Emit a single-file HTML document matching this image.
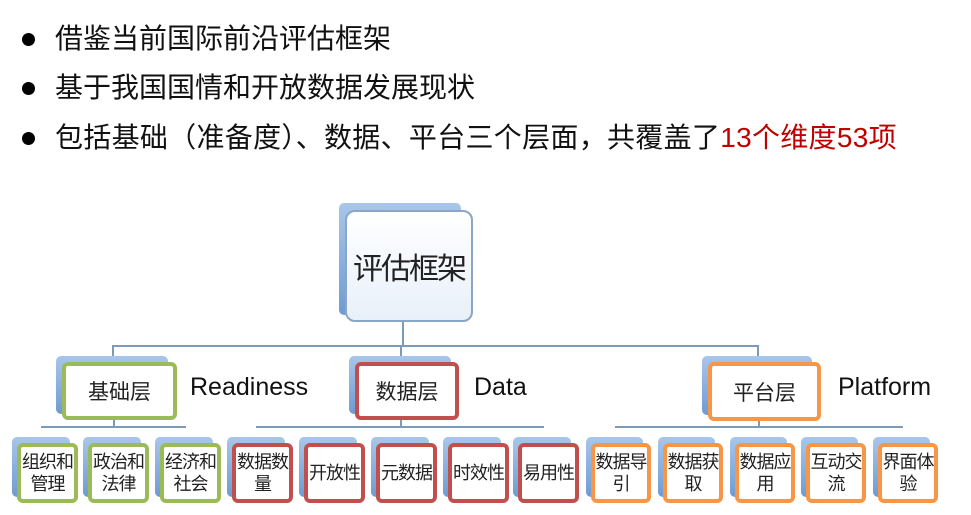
<!DOCTYPE html>
<html><head><meta charset="utf-8"><style>
body{margin:0;width:971px;height:515px;background:#fff;position:relative;overflow:hidden;font-family:"Liberation Sans","Noto Sans CJK SC",sans-serif;}
.b{position:absolute;left:22px;width:13px;height:13px;border-radius:50%;background:#000;}
.t{position:absolute;left:55px;font-size:28px;color:#111;line-height:32px;white-space:nowrap;}
.sh{position:absolute;background:linear-gradient(#a9c6ea,#6f9bd2);border-radius:5px;}
.bx{position:absolute;background:#fff;border-radius:6px;box-sizing:border-box;display:flex;align-items:center;justify-content:center;text-align:center;color:#222;font-family:"Liberation Sans","WenQuanYi Zen Hei",sans-serif;white-space:nowrap;}
.l{position:absolute;background:#7d9bb8;}
.g{border:4px solid #9bbb59}.r{border:4px solid #c0504d}.o{border:4px solid #f79646}
.c{font-size:18px;line-height:22px;letter-spacing:-1px}
.lab{position:absolute;font-size:25px;color:#111;}
</style></head><body>
<div class="b" style="top:33px"></div><div class="t" style="top:23px">借鉴当前国际前沿评估框架</div>
<div class="b" style="top:82px"></div><div class="t" style="top:72px">基于我国国情和开放数据发展现状</div>
<div class="b" style="top:132px"></div><div class="t" style="top:122px;letter-spacing:0.3px">包括基础（准备度）、数据、平台三个层面，共覆盖了<span style="color:#c00000">13个维度53项</span></div>

<div class="l" style="left:402px;top:322px;width:2px;height:25px"></div>
<div class="l" style="left:112px;top:345px;width:647px;height:2px"></div>
<div class="l" style="left:112px;top:345px;width:2px;height:17px"></div>
<div class="l" style="left:400px;top:345px;width:2px;height:17px"></div>
<div class="l" style="left:757px;top:345px;width:2px;height:17px"></div>
<div class="l" style="left:41px;top:426px;width:145px;height:2px"></div>
<div class="l" style="left:113px;top:420px;width:2px;height:7px"></div>
<div class="l" style="left:256px;top:426px;width:288px;height:2px"></div>
<div class="l" style="left:400px;top:420px;width:2px;height:7px"></div>
<div class="l" style="left:615px;top:426px;width:288px;height:2px"></div>
<div class="l" style="left:758px;top:421px;width:2px;height:7px"></div>

<div class="sh" style="left:339px;top:203px;width:122px;height:112px"></div>
<div class="bx" style="left:345px;top:210px;width:128px;height:112px;border:2px solid #8aa6c6;border-radius:10px;background:linear-gradient(#fff,#e8f0fa);font-size:30px;letter-spacing:-2px">评估框架</div>

<div class="sh" style="left:56px;top:356px;width:112px;height:58px"></div>
<div class="bx g" style="left:62px;top:362px;width:115px;height:58px;font-size:21px">基础层</div>
<div class="lab" style="left:190px;top:373px">Readiness</div>
<div class="sh" style="left:349px;top:356px;width:102px;height:58px"></div>
<div class="bx r" style="left:355px;top:362px;width:104px;height:58px;font-size:21px">数据层</div>
<div class="lab" style="left:474px;top:373px">Data</div>
<div class="sh" style="left:702px;top:356px;width:110px;height:59px"></div>
<div class="bx o" style="left:708px;top:362px;width:113px;height:59px;font-size:21px">平台层</div>
<div class="lab" style="left:838px;top:373px">Platform</div>

<div class="sh" style="left:12px;top:437px;width:58px;height:60px"></div><div class="bx g c" style="left:17px;top:443px;width:61px;height:60px">组织和<br>管理</div>
<div class="sh" style="left:83px;top:437px;width:58px;height:60px"></div><div class="bx g c" style="left:88px;top:443px;width:61px;height:60px">政治和<br>法律</div>
<div class="sh" style="left:155px;top:437px;width:58px;height:60px"></div><div class="bx g c" style="left:160px;top:443px;width:61px;height:60px">经济和<br>社会</div>

<div class="sh" style="left:227px;top:437px;width:58px;height:60px"></div><div class="bx r c" style="left:232px;top:443px;width:61px;height:60px">数据数<br>量</div>
<div class="sh" style="left:299px;top:437px;width:58px;height:60px"></div><div class="bx r c" style="left:304px;top:443px;width:61px;height:60px">开放性</div>
<div class="sh" style="left:371px;top:437px;width:58px;height:60px"></div><div class="bx r c" style="left:376px;top:443px;width:61px;height:60px">元数据</div>
<div class="sh" style="left:443px;top:437px;width:58px;height:60px"></div><div class="bx r c" style="left:448px;top:443px;width:61px;height:60px">时效性</div>
<div class="sh" style="left:513px;top:437px;width:58px;height:60px"></div><div class="bx r c" style="left:518px;top:443px;width:61px;height:60px">易用性</div>

<div class="sh" style="left:586px;top:437px;width:57px;height:60px"></div><div class="bx o c" style="left:591px;top:443px;width:60px;height:60px">数据导<br>引</div>
<div class="sh" style="left:658px;top:437px;width:57px;height:60px"></div><div class="bx o c" style="left:663px;top:443px;width:60px;height:60px">数据获<br>取</div>
<div class="sh" style="left:730px;top:437px;width:57px;height:60px"></div><div class="bx o c" style="left:735px;top:443px;width:60px;height:60px">数据应<br>用</div>
<div class="sh" style="left:801px;top:437px;width:57px;height:60px"></div><div class="bx o c" style="left:806px;top:443px;width:60px;height:60px">互动交<br>流</div>
<div class="sh" style="left:873px;top:437px;width:57px;height:60px"></div><div class="bx o c" style="left:878px;top:443px;width:60px;height:60px">界面体<br>验</div>
</body></html>
